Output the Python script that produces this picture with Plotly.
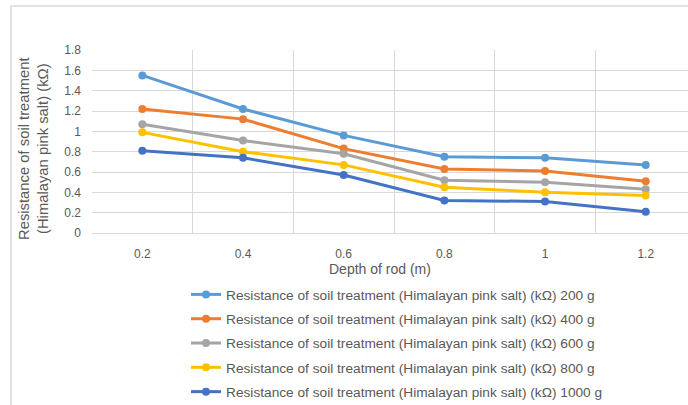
import plotly.graph_objects as go

# Depth of the earth rod (m)
depth = ["0.2", "0.4", "0.6", "0.8", "1", "1.2"]

# Soil resistance (kΩ) after treatment with Himalayan pink salt, per dose
r_200g = [1.55, 1.22, 0.96, 0.75, 0.74, 0.67]
r_400g = [1.22, 1.12, 0.83, 0.63, 0.61, 0.51]
r_600g = [1.07, 0.91, 0.78, 0.52, 0.50, 0.43]
r_800g = [0.99, 0.80, 0.67, 0.45, 0.40, 0.37]
r_1000g = [0.81, 0.74, 0.57, 0.32, 0.31, 0.21]

series = [
    ("Resistance of soil treatment (Himalayan pink salt) (kΩ) 200 g", r_200g, "#5B9BD5"),
    ("Resistance of soil treatment (Himalayan pink salt) (kΩ) 400 g", r_400g, "#ED7D31"),
    ("Resistance of soil treatment (Himalayan pink salt) (kΩ) 600 g", r_600g, "#A5A5A5"),
    ("Resistance of soil treatment (Himalayan pink salt) (kΩ) 800 g", r_800g, "#FFC000"),
    ("Resistance of soil treatment (Himalayan pink salt) (kΩ) 1000 g", r_1000g, "#4472C4"),
]

FONT = "Liberation Sans, Arial, sans-serif"
TXT = "#595959"
GRID = "#D9D9D9"

fig = go.Figure()
for i, (name, vals, col) in enumerate(series):
    fig.add_trace(go.Scatter(
        x=depth, y=vals, name=name, mode="lines+markers",
        line=dict(color=col, width=3),
        marker=dict(color=col, size=8),
        legendgroup=f"g{i}",
    ))

W, H = 688, 405
L, R, T, B = 92, 0, 50, 172
pw = W - L - R
ph = H - T - B

def px_x(x):
    return (x - L) / pw

def px_y(y):
    return (H - B - y) / ph

fig.update_layout(
    width=W, height=H,
    margin=dict(l=L, r=R, t=T, b=B, autoexpand=False),
    paper_bgcolor="white", plot_bgcolor="white",
    font=dict(family=FONT, color=TXT, size=12),
    showlegend=True,
    legend=dict(
        x=px_x(186), y=px_y(279), xanchor="left", yanchor="top",
        orientation="v", tracegroupgap=3.5,
        font=dict(family=FONT, size=13.7, color=TXT),
        bgcolor="rgba(0,0,0,0)",
    ),
    xaxis=dict(
        type="category", tickson="boundaries",
        range=[-0.5, 5.42],
        showgrid=True, gridcolor=GRID, gridwidth=1,
        showline=True, linecolor=GRID, linewidth=1,
        ticks="", zeroline=False,
        tickfont=dict(family=FONT, size=12, color=TXT),
        ticklabelstandoff=10,
    ),
    yaxis=dict(
        range=[0, 1.8], dtick=0.2, tick0=0,
        showgrid=True, gridcolor=GRID, gridwidth=1,
        zeroline=False, showline=False, ticks="",
        tickfont=dict(family=FONT, size=12, color=TXT),
        ticklabelstandoff=10,
    ),
    annotations=[
        dict(
            text="Depth of rod (m)", xref="paper", yref="paper",
            x=px_x(380), y=px_y(268.5), xanchor="center", yanchor="middle",
            showarrow=False, font=dict(family=FONT, size=14, color=TXT),
        ),
        dict(
            text="Resistance of soil treatment<br>(Himalayan pink salt) (kΩ)",
            xref="paper", yref="paper", textangle=-90,
            x=px_x(33.5), y=px_y(148.5), xanchor="center", yanchor="middle",
            showarrow=False, font=dict(family=FONT, size=14.8, color=TXT),
        ),
    ],
    shapes=[dict(
        type="rect", xref="paper", yref="paper",
        x0=px_x(11), x1=px_x(720), y0=px_y(440), y1=px_y(6),
        line=dict(color=GRID, width=1.5), fillcolor="rgba(0,0,0,0)",
        layer="below",
    )],
)

fig.write_html("out.html")
